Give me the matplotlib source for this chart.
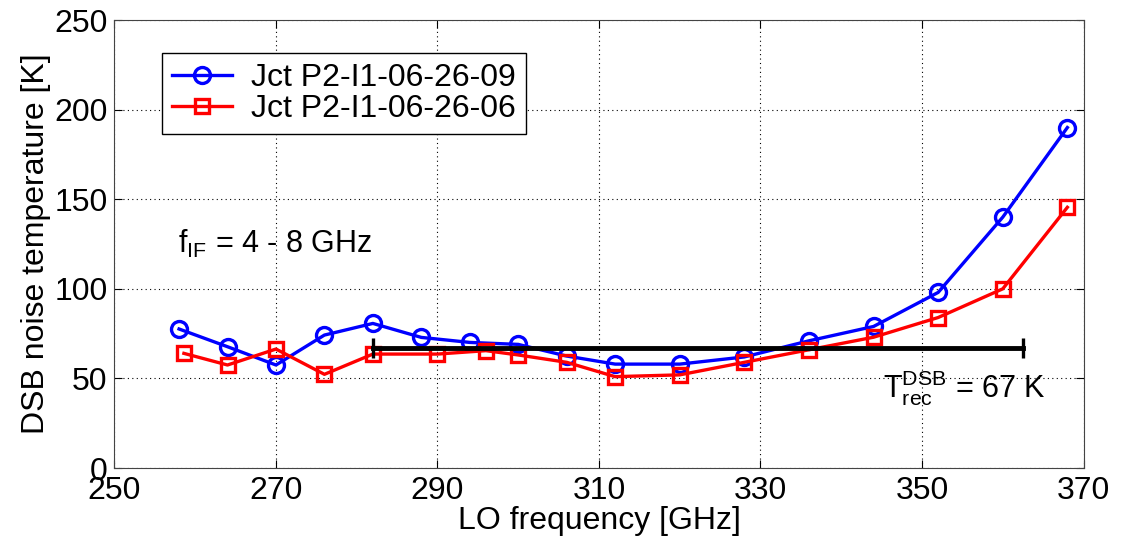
import numpy as np
from matplotlib import pyplot as plt

plt.rcParams['font.family'] = ['Liberation Sans', 'DejaVu Sans']
plt.rcParams['mathtext.fontset'] = 'custom'
plt.rcParams['mathtext.rm'] = 'Liberation Sans'

# LO frequency [GHz]
freq_09 = [258, 264, 270, 276, 282, 288, 294, 300, 306, 312, 320, 328, 336, 344, 352, 360, 368]
temp_09 = [77.6, 67.7, 57.5, 74.2, 80.7, 72.9, 70.1, 69.0, 62.5, 58.0, 58.0, 62.0, 71.0, 79.0, 98.0, 140.0, 190.0]

freq_06 = [258.6, 264, 270, 276, 282, 290, 296, 300, 306, 312, 320, 328, 336, 344, 352, 360, 368]
temp_06 = [64.0, 57.5, 66.4, 52.3, 63.6, 63.6, 65.5, 63.1, 59.0, 51.0, 52.0, 59.0, 66.0, 73.0, 84.0, 100.0, 145.5]

label_09 = "Jct P2-I1-06-26-09"
label_06 = "Jct P2-I1-06-26-06"

avg_range = [282, 362.5]
avg_temp = 67

fig = plt.figure(figsize=(11.22, 5.5), dpi=100)
ax = fig.add_axes([0.102, 0.149, 0.8637, 0.8146])

ax.plot(freq_09, temp_09, "-o", color="blue", lw=2.4, ms=11.5, mew=2.4,
        mfc="none", label=label_09)
ax.plot(freq_06, temp_06, "-s", color="red", lw=2.4, ms=10, mew=2.4,
        mfc="none", label=label_06)

# average line with end caps
ax.plot(avg_range, [avg_temp, avg_temp], color="black", lw=3.5)
ax.plot(avg_range, [avg_temp, avg_temp], "|", color="black", ms=14, mew=2.4)

ax.text(257.9, 120, r"f$_{\mathrm{IF}}$ = 4 - 8 GHz", fontsize=22, va="baseline")
ax.text(345.2, 39.6, r"T$_{\mathrm{rec}}^{\mathrm{DSB}}$ = 67 K", fontsize=22, va="baseline")

ax.set_xlim(250, 370)
ax.set_ylim(0, 250)
ax.set_xticks(np.arange(250, 371, 20))
ax.set_yticks(np.arange(0, 251, 50))
ax.tick_params(direction="in", top=True, right=True, labelsize=23, length=6)
ax.tick_params(axis="x", pad=6)
ax.tick_params(axis="y", pad=5)
ax.grid(True, color="black", linestyle=(0, (1, 3)), lw=0.8)
for s in ax.spines.values():
    s.set_color("#444444")

ax.set_xlabel("LO frequency [GHz]", fontsize=23, labelpad=0)
ax.set_ylabel("DSB noise temperature [K]", fontsize=23, labelpad=2)

leg = ax.legend(loc="upper left", bbox_to_anchor=(0.049, 0.926), fontsize=23,
                frameon=True, fancybox=False, edgecolor="black", framealpha=1,
                handlelength=1.9, handletextpad=0.6, borderpad=0.3,
                labelspacing=0.05, borderaxespad=0)
leg.get_frame().set_linewidth(1.0)

plt.savefig("out.png", dpi=100)
